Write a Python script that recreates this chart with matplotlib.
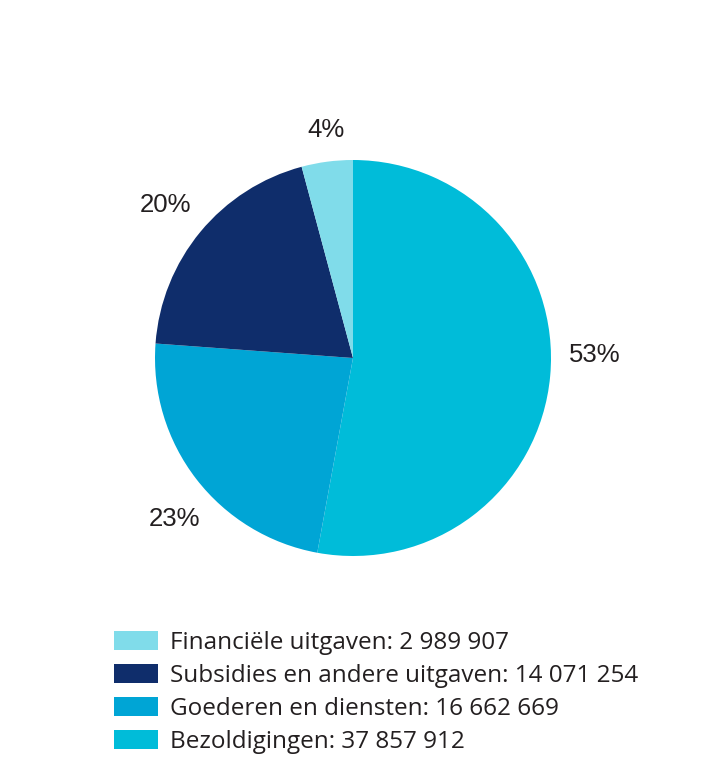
import matplotlib
matplotlib.use("Agg")
import matplotlib.pyplot as plt

# ── Data (pie drawn clockwise from 12 o'clock) ───────────────────────────────
categories = ["Bezoldigingen", "Goederen en diensten",
              "Subsidies en andere uitgaven", "Financiële uitgaven"]
amounts = [37857912, 16662669, 14071254, 2989907]
colors = ["#00bcd9", "#00a5d5", "#0f2d6b", "#80dcea"]

# label anchor points in pie-radius units, as placed in the reference
label_pos = [(1.222, 0.015), (-0.899, -0.813), (-0.949, 0.773), (-0.136, 1.15)]

W, H = 723, 780
fig = plt.figure(figsize=(W / 100, H / 100), dpi=100)
fig.patch.set_facecolor("white")

# pie centre (353, 358) px, radius ~198 px
CX, CY, R = 353, 358, 198
ax = fig.add_axes([(CX - R) / W, (H - CY - R) / H, 2 * R / W, 2 * R / H])

wedges, _, autotexts = ax.pie(
    amounts, colors=colors, startangle=90, counterclock=False,
    radius=1.0, autopct=lambda p: f"{p:.0f}%", pctdistance=1.22,
    wedgeprops=dict(linewidth=0),
    textprops=dict(fontsize=18.5, color="#231f20", family="Liberation Sans"),
)
ax.set_xlim(-1, 1)
ax.set_ylim(-1, 1)
ax.axis("off")
for t, pos in zip(autotexts, label_pos):
    t.set_position(pos)

# ── Legend (reverse order, as in the reference) ──────────────────────────────
labels = [f"{c}: {v:,}".replace(",", " ") for c, v in zip(categories, amounts)]
order = [3, 2, 1, 0]
leg = fig.legend(
    [wedges[i] for i in order], [labels[i] for i in order],
    loc="upper left", bbox_to_anchor=(114 / W, 1 - 631 / H),
    frameon=False, handlelength=1.8, handleheight=0.8,
    handletextpad=0.5, labelspacing=0.37, borderaxespad=0, borderpad=0,
    prop=dict(family="Open Sans", size=17.5),
)
for t in leg.get_texts():
    t.set_color("#231f20")

fig.savefig("out.png", dpi=100, facecolor="white")
